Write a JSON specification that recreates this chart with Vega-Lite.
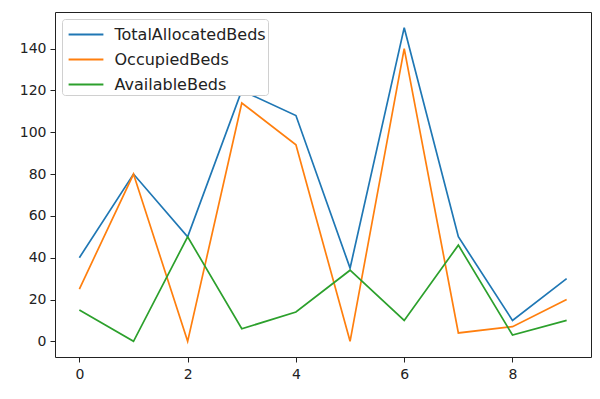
{
  "$schema": "https://vega.github.io/schema/vega-lite/v6.json",
  "width": 536,
  "height": 345,
  "autosize": {"type": "none"},
  "padding": {"left": 55, "top": 12, "right": 9, "bottom": 42},
  "background": "white",
  "config": {
    "view": {"stroke": "#222", "strokeWidth": 1},
    "font": "DejaVu Sans",
    "axis": {
      "grid": false,
      "domain": false,
      "tickColor": "#222",
      "tickSize": 5,
      "labelFontSize": 14,
      "labelColor": "#222",
      "labelFont": "DejaVu Sans",
      "title": null
    }
  },
  "data": {
    "values": [
      {"i": 0, "series": "TotalAllocatedBeds", "v": 40},
      {"i": 1, "series": "TotalAllocatedBeds", "v": 80},
      {"i": 2, "series": "TotalAllocatedBeds", "v": 50},
      {"i": 3, "series": "TotalAllocatedBeds", "v": 120},
      {"i": 4, "series": "TotalAllocatedBeds", "v": 108},
      {"i": 5, "series": "TotalAllocatedBeds", "v": 35},
      {"i": 6, "series": "TotalAllocatedBeds", "v": 150},
      {"i": 7, "series": "TotalAllocatedBeds", "v": 50},
      {"i": 8, "series": "TotalAllocatedBeds", "v": 10},
      {"i": 9, "series": "TotalAllocatedBeds", "v": 30},
      {"i": 0, "series": "OccupiedBeds", "v": 25},
      {"i": 1, "series": "OccupiedBeds", "v": 80},
      {"i": 2, "series": "OccupiedBeds", "v": 0},
      {"i": 3, "series": "OccupiedBeds", "v": 114},
      {"i": 4, "series": "OccupiedBeds", "v": 94},
      {"i": 5, "series": "OccupiedBeds", "v": 0},
      {"i": 6, "series": "OccupiedBeds", "v": 140},
      {"i": 7, "series": "OccupiedBeds", "v": 4},
      {"i": 8, "series": "OccupiedBeds", "v": 7},
      {"i": 9, "series": "OccupiedBeds", "v": 20},
      {"i": 0, "series": "AvailableBeds", "v": 15},
      {"i": 1, "series": "AvailableBeds", "v": 0},
      {"i": 2, "series": "AvailableBeds", "v": 50},
      {"i": 3, "series": "AvailableBeds", "v": 6},
      {"i": 4, "series": "AvailableBeds", "v": 14},
      {"i": 5, "series": "AvailableBeds", "v": 34},
      {"i": 6, "series": "AvailableBeds", "v": 10},
      {"i": 7, "series": "AvailableBeds", "v": 46},
      {"i": 8, "series": "AvailableBeds", "v": 3},
      {"i": 9, "series": "AvailableBeds", "v": 10}
    ]
  },
  "mark": {"type": "line", "strokeWidth": 1.7, "clip": true},
  "encoding": {
    "x": {
      "field": "i",
      "type": "quantitative",
      "scale": {"domain": [-0.45, 9.45], "nice": false, "zero": false},
      "axis": {"values": [0, 2, 4, 6, 8], "labelPadding": 5}
    },
    "y": {
      "field": "v",
      "type": "quantitative",
      "scale": {"domain": [-7.5, 157.5], "nice": false, "zero": false},
      "axis": {"values": [0, 20, 40, 60, 80, 100, 120, 140], "labelPadding": 4}
    },
    "color": {
      "field": "series",
      "type": "nominal",
      "scale": {
        "domain": ["TotalAllocatedBeds", "OccupiedBeds", "AvailableBeds"],
        "range": ["#1f77b4", "#ff7f0e", "#2ca02c"]
      },
      "legend": {
        "title": null,
        "orient": "none",
        "legendX": 7,
        "legendY": 7,
        "fillColor": "white",
        "strokeColor": "#d0d0d0",
        "cornerRadius": 3,
        "padding": 2,
        "symbolType": "M-1.45,0H1.45",
        "symbolSize": 576,
        "symbolOffset": 8.5,
        "symbolStrokeWidth": 2.2,
        "labelFontSize": 16,
        "labelFont": "DejaVu Sans",
        "labelColor": "#222",
        "rowPadding": 3,
        "labelOffset": 15
      }
    }
  }
}
